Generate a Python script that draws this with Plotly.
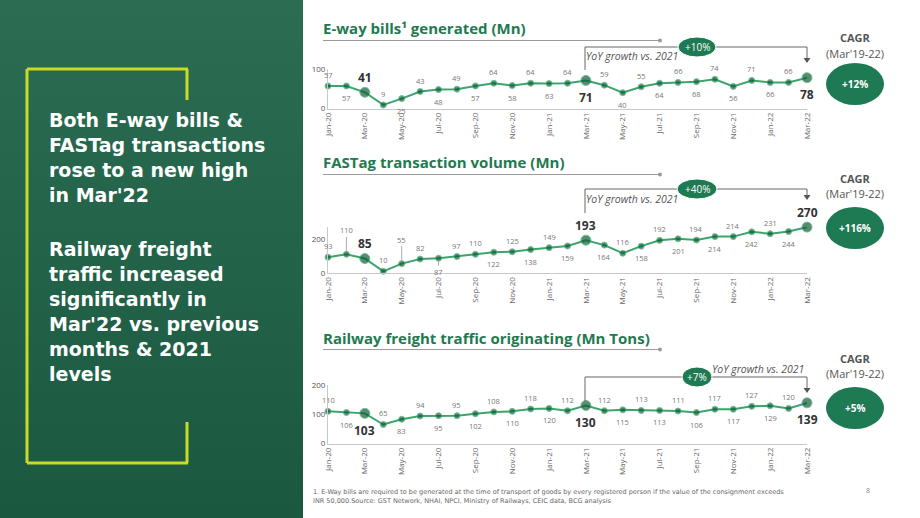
import plotly.graph_objects as go

W, H = 920, 518

months = ["Jan-20", "Feb-20", "Mar-20", "Apr-20", "May-20", "Jun-20", "Jul-20", "Aug-20", "Sep-20",
          "Oct-20", "Nov-20", "Dec-20", "Jan-21", "Feb-21", "Mar-21", "Apr-21", "May-21", "Jun-21",
          "Jul-21", "Aug-21", "Sep-21", "Oct-21", "Nov-21", "Dec-21", "Jan-22", "Feb-22", "Mar-22"]
tick_months = months[::2]
highlight_months = ["Mar-20", "Mar-21", "Mar-22"]

eway_bills = [57, 57, 41, 9, 25, 43, 48, 49, 57, 64, 58, 64, 63, 64, 71, 59, 40, 55, 64, 66, 68, 74, 56, 71, 66, 66, 78]
fastag = [93, 110, 85, 10, 55, 82, 87, 97, 110, 122, 125, 138, 149, 159, 193, 164, 116, 158, 192, 201, 194, 214, 214,
          242, 231, 244, 270]
railway = [110, 106, 103, 65, 83, 94, 95, 95, 102, 108, 110, 118, 120, 112, 130, 112, 115, 113, 113, 111, 106, 117,
           117, 127, 129, 120, 139]

titles = ["E-way bills¹ generated (Mn)", "FASTag transaction volume (Mn)", "Railway freight traffic originating (Mn Tons)"]
yoy_growth = ["+10%", "+40%", "+7%"]
cagr = ["+12%", "+116%", "+5%"]

# label placement: a = above, b = below, A/B = with leader line
eway_place = ["a", "b", "a", "a", "b", "a", "b", "a", "b", "a", "b", "a", "b", "a", "b", "a", "b", "a", "b", "a",
              "b", "a", "b", "a", "b", "a", "b"]
fastag_place = ["a", "A", "a", "a", "A", "a", "B", "a", "a", "b", "a", "b", "a", "b", "a", "b", "a", "b", "a", "b",
                "a", "b", "a", "b", "a", "b", "a"]
rail_place = ["a", "b", "b", "a", "b", "a", "b", "a", "b", "a", "b", "a", "b", "a", "b", "a", "b", "a", "b", "a",
              "b", "a", "b", "a", "b", "a", "b"]

LINE_C = "#3ba56c"
MARK_C = "#0e5c37"
TITLE_C = "#1f7a50"
ELL_C = "#1e7a52"
FONT = "Open Sans"


def px(x):
    return x / W


def py(y):
    return 1 - y / H


fig = go.Figure()

# background panel (left) with vertical gradient
fig.add_trace(go.Scatter(x=[0, 303, 303, 0, 0], y=[0, 0, H, H, 0], mode="lines", fill="toself",
                         fillgradient=dict(type="vertical", colorscale=[[0, "#1a5940"], [1, "#2b6c52"]]),
                         line=dict(width=0), hoverinfo="skip", showlegend=False, xaxis="x4", yaxis="y4",
                         cliponaxis=False))

charts = [
    dict(data=eway_bills, place=eway_place, yr=[0, 100], y0=108.5, y1=69, tv=[0, 100], title_y=28, ul_y=40.5,
         br_y=47, br_left_end=70, br_right_end=63, ell_w=38, yoy_txt=(586, 56), cagr_y=(38, 53, 84)),
    dict(data=fastag, place=fastag_place, yr=[0, 270], y0=273, y1=273 - 270 * 0.17, tv=[0, 200], title_y=162,
         ul_y=174.5, br_y=189, br_left_end=213, br_right_end=200, ell_w=40, yoy_txt=(586, 199),
         cagr_y=(178, 193, 228)),
    dict(data=railway, place=rail_place, yr=[0, 200], y0=443.5, y1=385, tv=[0, 100, 200], title_y=338,
         ul_y=349.5, br_y=377, br_left_end=401, br_right_end=393, ell_w=30, yoy_txt=(712, 369),
         cagr_y=(358, 373, 408)),
]

X0, X1 = 328, 807
PADX = 2
shapes = [dict(type="rect", xref="paper", yref="paper", x0=0, x1=px(303), y0=0, y1=1, layer="below",
               fillcolor="#22634a", line=dict(width=0))]
annotations = []


def ptext(x, y, text, size, color, anchor="center", family=FONT):
    xx = x - PADX if anchor == "left" else x
    annotations.append(dict(x=px(xx), y=py(y), xref="paper", yref="paper", xanchor=anchor, yanchor="middle",
                            text=text, showarrow=False, font=dict(family=family, size=size, color=color)))


for i, c in enumerate(charts):
    n = "" if i == 0 else str(i + 1)
    xa, ya = "x" + n, "y" + n
    fig.add_trace(go.Scatter(x=months, y=c["data"], mode="lines+markers", xaxis=xa, yaxis=ya,
                             line=dict(color=LINE_C, width=2),
                             marker=dict(color=MARK_C, size=[10 if m in highlight_months else 6 for m in months]),
                             cliponaxis=False, hoverinfo="skip", showlegend=False))
    fig.layout["xaxis" + n] = dict(domain=[px(X0), px(X1)], type="category", range=[0, 26], anchor=ya,
                                   tickmode="array", tickvals=tick_months, tickangle=-90, showgrid=False,
                                   showline=True, linecolor="#c8c8c8", linewidth=1, ticks="", automargin=False,
                                   tickfont=dict(family=FONT, size=8, color="#666"), zeroline=False, fixedrange=True)
    fig.layout["yaxis" + n] = dict(domain=[py(c["y0"]), py(c["y1"])], range=c["yr"], anchor=xa,
                                   tickvals=c["tv"], showgrid=False, showline=True, linecolor="#c8c8c8",
                                   linewidth=1, ticks="", zeroline=False, automargin=False,
                                   tickfont=dict(family=FONT, size=8, color="#555"), fixedrange=True)
    for m, v, p in zip(months, c["data"], c["place"]):
        bold = m in highlight_months
        if bold:
            annotations.append(dict(x=m, y=v, xref=xa, yref=ya, text="<b>%d</b>" % v, showarrow=False,
                                    xanchor="center", yshift=15 if p in "aA" else -17,
                                    font=dict(family=FONT, size=12, color="#333")))
        elif p in "AB":
            annotations.append(dict(x=m, y=v, xref=xa, yref=ya, text=str(v), showarrow=True, arrowhead=0,
                                    arrowwidth=0.8, arrowcolor="#999", ax=0, ay=-24 if p == "A" else 14,
                                    standoff=3, font=dict(family=FONT, size=7.5, color="#777")))
        else:
            annotations.append(dict(x=m, y=v, xref=xa, yref=ya, text=str(v), showarrow=False, xanchor="center",
                                    yshift=11 if p == "a" else -12,
                                    font=dict(family=FONT, size=7.5, color="#777")))
    ptext(323, c["title_y"], "<b>%s</b>" % titles[i], 15, TITLE_C, anchor="left")
    shapes.append(dict(type="line", xref="paper", yref="paper", x0=px(323), x1=px(660), y0=py(c["ul_y"]),
                       y1=py(c["ul_y"]), line=dict(color="#9a9a9a", width=1)))
    shapes.append(dict(type="circle", xref="paper", yref="paper", x0=px(658), x1=px(662), y0=py(c["ul_y"] + 2),
                       y1=py(c["ul_y"] - 2), fillcolor="#9a9a9a", line=dict(width=0)))
    by = c["br_y"]
    shapes.append(dict(type="path", xref="paper", yref="paper",
                       path="M %f %f L %f %f L %f %f L %f %f" % (px(585), py(c["br_left_end"]), px(585), py(by),
                                                                px(807), py(by), px(807), py(c["br_right_end"] - 4)),
                       line=dict(color="#666", width=1)))
    shapes.append(dict(type="path", xref="paper", yref="paper",
                       path="M %f %f L %f %f L %f %f Z" % (px(803.5), py(c["br_right_end"] - 5), px(810.5),
                                                          py(c["br_right_end"] - 5), px(807), py(c["br_right_end"])),
                       fillcolor="#555", line=dict(width=0)))
    ew = c["ell_w"]
    shapes.append(dict(type="circle", xref="paper", yref="paper", x0=px(697 - ew / 2), x1=px(697 + ew / 2),
                       y0=py(by + 10), y1=py(by - 10), fillcolor=ELL_C, line=dict(color="#ffffff", width=1)))
    ptext(697, by, yoy_growth[i], 10, "white")
    tx, ty = c["yoy_txt"]
    ptext(tx, ty, "<i>YoY growth vs. 2021</i>", 10.5, "#555", anchor="left")
    cy1, cy2, ecy = c["cagr_y"]
    ptext(855, cy1, "<b>CAGR</b>", 11, "#555")
    ptext(855, cy2, "(Mar'19-22)", 11, "#555")
    shapes.append(dict(type="circle", xref="paper", yref="paper", x0=px(826), x1=px(884), y0=py(ecy + 21),
                       y1=py(ecy - 21), fillcolor=ELL_C, line=dict(width=0)))
    ptext(855, ecy, "<b>%s</b>" % cagr[i], 10, "white")

YEL = "#c9da2b"
for (x0, y0, x1, y1) in [(27, 69, 188, 69), (27, 69, 27, 463), (27, 463, 188, 463), (187, 69, 187, 100),
                         (187, 422, 187, 463)]:
    shapes.append(dict(type="line", xref="paper", yref="paper", x0=px(x0), y0=py(y0), x1=px(x1), y1=py(y1),
                       line=dict(color=YEL, width=3)))

left_lines = [("Both E-way bills &", 120), ("FASTag transactions", 145), ("rose to a new high", 170),
              ("in Mar'22", 195), ("Railway freight", 249), ("traffic increased", 274),
              ("significantly in", 299), ("Mar'22 vs. previous", 324), ("months & 2021", 349), ("levels", 374)]
for t, y in left_lines:
    ptext(49, y, "<b>%s</b>" % t, 19, "white", anchor="left", family="DejaVu Sans")

ptext(313, 491.5, "1. E-Way bills are required to be generated at the time of transport of goods by every "
                  "registered person if the value of the consignment exceeds", 6.5, "#666", anchor="left",
      family="DejaVu Sans")
ptext(313, 501, "INR 50,000.Source: GST Network, NHAI, NPCI, Ministry of Railways, CEIC data, BCG analysis",
      6.5, "#666", anchor="left", family="DejaVu Sans")
ptext(868, 490, "8", 7, "#888")

fig.update_layout(
    template="none",
    width=W, height=H, margin=dict(l=0, r=0, t=0, b=0, pad=0, autoexpand=False),
    paper_bgcolor="white", plot_bgcolor="rgba(0,0,0,0)",
    showlegend=False,
    xaxis4=dict(domain=[0, 1], range=[0, W], visible=False, anchor="y4", fixedrange=True, automargin=False),
    yaxis4=dict(domain=[0, 1], range=[0, H], visible=False, anchor="x4", fixedrange=True, automargin=False),
    shapes=shapes, annotations=annotations,
)

post = ("document.documentElement.style.margin='0';document.body.style.margin='0';"
        "document.body.style.padding='0';document.body.style.overflow='hidden';")
fig.write_html("out.html", post_script=post)
